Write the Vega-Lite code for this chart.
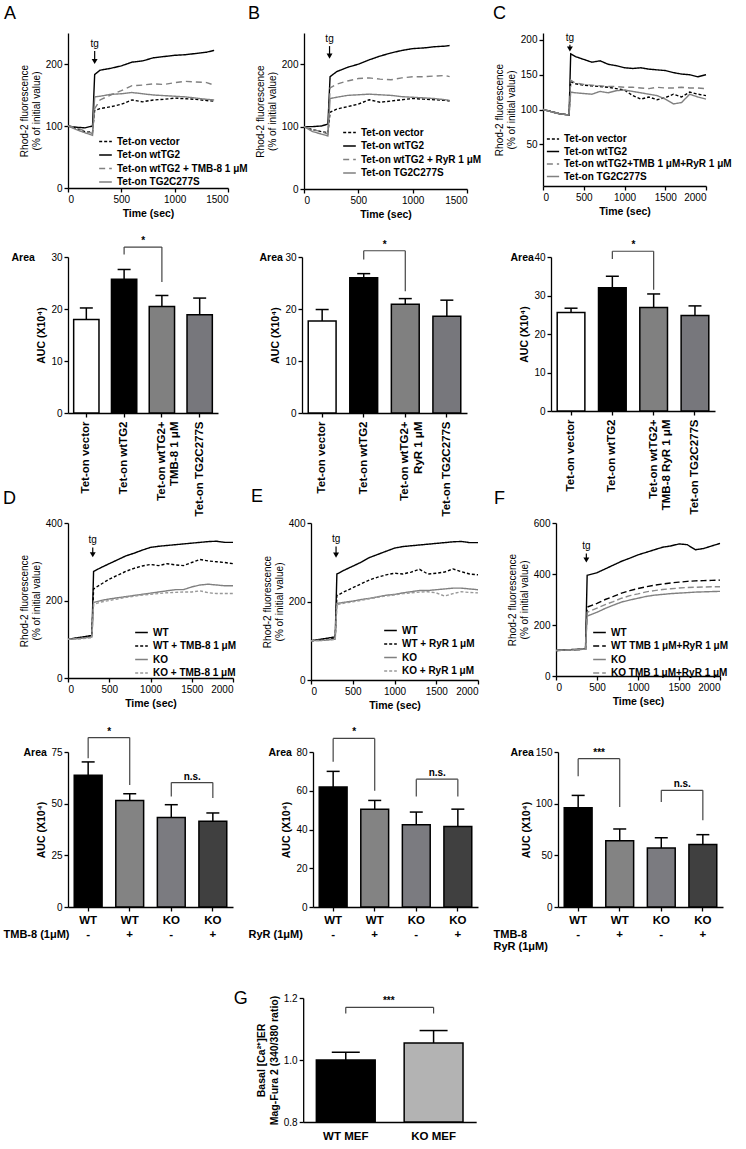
{
 "$schema": "https://vega.github.io/schema/vega-lite/v6.json",
 "background": "white",
 "padding": {"left": 3, "top": 4, "right": 3, "bottom": 2},
 "config": {
  "font": "Liberation Sans",
  "view": {"stroke": null},
  "axis": {"grid": false, "domainColor": "#000", "tickColor": "#000", "labelColor": "#000", "titleColor": "#000", "labelFontSize": 10, "titleFontSize": 10.5, "tickSize": 4, "domainWidth": 1.3, "tickWidth": 1.3, "labelPadding": 2, "titlePadding": 4},
  "legend": {"labelFontSize": 10, "labelFontWeight": "bold", "labelColor": "#000", "symbolType": "stroke", "symbolStrokeWidth": 1.5, "symbolSize": 160, "rowPadding": 0.5, "labelLimit": 400, "padding": 0},
  "title": {"color": "#000", "fontWeight": "normal"}
 },
 "datasets": {
  "lineA": [
   {"t":0,"v":100,"s":"Tet-on vector"},{"t":80,"v":96,"s":"Tet-on vector"},{"t":160,"v":91,"s":"Tet-on vector"},{"t":230,"v":90,"s":"Tet-on vector"},{"t":250,"v":125,"s":"Tet-on vector"},{"t":300,"v":128,"s":"Tet-on vector"},{"t":400,"v":131,"s":"Tet-on vector"},{"t":500,"v":135,"s":"Tet-on vector"},{"t":600,"v":142,"s":"Tet-on vector"},{"t":700,"v":139,"s":"Tet-on vector"},{"t":800,"v":142,"s":"Tet-on vector"},{"t":900,"v":143,"s":"Tet-on vector"},{"t":1000,"v":145,"s":"Tet-on vector"},{"t":1100,"v":144,"s":"Tet-on vector"},{"t":1200,"v":143,"s":"Tet-on vector"},{"t":1300,"v":141,"s":"Tet-on vector"},{"t":1370,"v":140,"s":"Tet-on vector"},
   {"t":0,"v":100,"s":"Tet-on wtTG2"},{"t":80,"v":98,"s":"Tet-on wtTG2"},{"t":160,"v":97,"s":"Tet-on wtTG2"},{"t":230,"v":100,"s":"Tet-on wtTG2"},{"t":250,"v":183,"s":"Tet-on wtTG2"},{"t":300,"v":190,"s":"Tet-on wtTG2"},{"t":400,"v":193,"s":"Tet-on wtTG2"},{"t":500,"v":197,"s":"Tet-on wtTG2"},{"t":600,"v":203,"s":"Tet-on wtTG2"},{"t":700,"v":205,"s":"Tet-on wtTG2"},{"t":800,"v":210,"s":"Tet-on wtTG2"},{"t":900,"v":212,"s":"Tet-on wtTG2"},{"t":1000,"v":214,"s":"Tet-on wtTG2"},{"t":1100,"v":215,"s":"Tet-on wtTG2"},{"t":1200,"v":217,"s":"Tet-on wtTG2"},{"t":1300,"v":219,"s":"Tet-on wtTG2"},{"t":1370,"v":222,"s":"Tet-on wtTG2"},
   {"t":0,"v":100,"s":"Tet-on wtTG2 + TMB-8 1 μM"},{"t":80,"v":97,"s":"Tet-on wtTG2 + TMB-8 1 μM"},{"t":160,"v":92,"s":"Tet-on wtTG2 + TMB-8 1 μM"},{"t":230,"v":88,"s":"Tet-on wtTG2 + TMB-8 1 μM"},{"t":250,"v":128,"s":"Tet-on wtTG2 + TMB-8 1 μM"},{"t":300,"v":142,"s":"Tet-on wtTG2 + TMB-8 1 μM"},{"t":400,"v":150,"s":"Tet-on wtTG2 + TMB-8 1 μM"},{"t":500,"v":157,"s":"Tet-on wtTG2 + TMB-8 1 μM"},{"t":600,"v":165,"s":"Tet-on wtTG2 + TMB-8 1 μM"},{"t":700,"v":166,"s":"Tet-on wtTG2 + TMB-8 1 μM"},{"t":800,"v":168,"s":"Tet-on wtTG2 + TMB-8 1 μM"},{"t":900,"v":167,"s":"Tet-on wtTG2 + TMB-8 1 μM"},{"t":1000,"v":170,"s":"Tet-on wtTG2 + TMB-8 1 μM"},{"t":1100,"v":172,"s":"Tet-on wtTG2 + TMB-8 1 μM"},{"t":1200,"v":171,"s":"Tet-on wtTG2 + TMB-8 1 μM"},{"t":1300,"v":170,"s":"Tet-on wtTG2 + TMB-8 1 μM"},{"t":1370,"v":166,"s":"Tet-on wtTG2 + TMB-8 1 μM"},
   {"t":0,"v":100,"s":"Tet-on TG2C277S"},{"t":80,"v":94,"s":"Tet-on TG2C277S"},{"t":160,"v":89,"s":"Tet-on TG2C277S"},{"t":230,"v":85,"s":"Tet-on TG2C277S"},{"t":250,"v":147,"s":"Tet-on TG2C277S"},{"t":300,"v":148,"s":"Tet-on TG2C277S"},{"t":400,"v":151,"s":"Tet-on TG2C277S"},{"t":500,"v":152,"s":"Tet-on TG2C277S"},{"t":600,"v":154,"s":"Tet-on TG2C277S"},{"t":700,"v":152,"s":"Tet-on TG2C277S"},{"t":800,"v":150,"s":"Tet-on TG2C277S"},{"t":900,"v":149,"s":"Tet-on TG2C277S"},{"t":1000,"v":148,"s":"Tet-on TG2C277S"},{"t":1100,"v":147,"s":"Tet-on TG2C277S"},{"t":1200,"v":145,"s":"Tet-on TG2C277S"},{"t":1300,"v":143,"s":"Tet-on TG2C277S"},{"t":1370,"v":142,"s":"Tet-on TG2C277S"}
  ],
  "lineB": [
   {"t":0,"v":100,"s":"Tet-on vector"},{"t":80,"v":95,"s":"Tet-on vector"},{"t":160,"v":92,"s":"Tet-on vector"},{"t":220,"v":90,"s":"Tet-on vector"},{"t":240,"v":123,"s":"Tet-on vector"},{"t":300,"v":128,"s":"Tet-on vector"},{"t":400,"v":132,"s":"Tet-on vector"},{"t":500,"v":136,"s":"Tet-on vector"},{"t":600,"v":143,"s":"Tet-on vector"},{"t":700,"v":139,"s":"Tet-on vector"},{"t":800,"v":141,"s":"Tet-on vector"},{"t":900,"v":143,"s":"Tet-on vector"},{"t":1000,"v":145,"s":"Tet-on vector"},{"t":1100,"v":144,"s":"Tet-on vector"},{"t":1200,"v":143,"s":"Tet-on vector"},{"t":1300,"v":142,"s":"Tet-on vector"},{"t":1340,"v":141,"s":"Tet-on vector"},
   {"t":0,"v":100,"s":"Tet-on wtTG2"},{"t":80,"v":100,"s":"Tet-on wtTG2"},{"t":160,"v":101,"s":"Tet-on wtTG2"},{"t":220,"v":104,"s":"Tet-on wtTG2"},{"t":240,"v":180,"s":"Tet-on wtTG2"},{"t":300,"v":188,"s":"Tet-on wtTG2"},{"t":400,"v":195,"s":"Tet-on wtTG2"},{"t":500,"v":200,"s":"Tet-on wtTG2"},{"t":600,"v":207,"s":"Tet-on wtTG2"},{"t":700,"v":213,"s":"Tet-on wtTG2"},{"t":800,"v":218,"s":"Tet-on wtTG2"},{"t":900,"v":222,"s":"Tet-on wtTG2"},{"t":1000,"v":225,"s":"Tet-on wtTG2"},{"t":1100,"v":226,"s":"Tet-on wtTG2"},{"t":1200,"v":228,"s":"Tet-on wtTG2"},{"t":1300,"v":229,"s":"Tet-on wtTG2"},{"t":1340,"v":230,"s":"Tet-on wtTG2"},
   {"t":0,"v":100,"s":"Tet-on wtTG2 + RyR 1 μM"},{"t":80,"v":95,"s":"Tet-on wtTG2 + RyR 1 μM"},{"t":160,"v":92,"s":"Tet-on wtTG2 + RyR 1 μM"},{"t":220,"v":88,"s":"Tet-on wtTG2 + RyR 1 μM"},{"t":240,"v":162,"s":"Tet-on wtTG2 + RyR 1 μM"},{"t":300,"v":168,"s":"Tet-on wtTG2 + RyR 1 μM"},{"t":400,"v":173,"s":"Tet-on wtTG2 + RyR 1 μM"},{"t":500,"v":177,"s":"Tet-on wtTG2 + RyR 1 μM"},{"t":600,"v":178,"s":"Tet-on wtTG2 + RyR 1 μM"},{"t":700,"v":176,"s":"Tet-on wtTG2 + RyR 1 μM"},{"t":800,"v":175,"s":"Tet-on wtTG2 + RyR 1 μM"},{"t":900,"v":178,"s":"Tet-on wtTG2 + RyR 1 μM"},{"t":1000,"v":180,"s":"Tet-on wtTG2 + RyR 1 μM"},{"t":1100,"v":180,"s":"Tet-on wtTG2 + RyR 1 μM"},{"t":1200,"v":181,"s":"Tet-on wtTG2 + RyR 1 μM"},{"t":1300,"v":182,"s":"Tet-on wtTG2 + RyR 1 μM"},{"t":1340,"v":180,"s":"Tet-on wtTG2 + RyR 1 μM"},
   {"t":0,"v":100,"s":"Tet-on TG2C277S"},{"t":80,"v":92,"s":"Tet-on TG2C277S"},{"t":160,"v":88,"s":"Tet-on TG2C277S"},{"t":220,"v":85,"s":"Tet-on TG2C277S"},{"t":240,"v":145,"s":"Tet-on TG2C277S"},{"t":300,"v":147,"s":"Tet-on TG2C277S"},{"t":400,"v":150,"s":"Tet-on TG2C277S"},{"t":500,"v":151,"s":"Tet-on TG2C277S"},{"t":600,"v":152,"s":"Tet-on TG2C277S"},{"t":700,"v":151,"s":"Tet-on TG2C277S"},{"t":800,"v":150,"s":"Tet-on TG2C277S"},{"t":900,"v":148,"s":"Tet-on TG2C277S"},{"t":1000,"v":147,"s":"Tet-on TG2C277S"},{"t":1100,"v":146,"s":"Tet-on TG2C277S"},{"t":1200,"v":145,"s":"Tet-on TG2C277S"},{"t":1300,"v":143,"s":"Tet-on TG2C277S"},{"t":1340,"v":142,"s":"Tet-on TG2C277S"}
  ],
  "lineC": [
   {"t":0,"v":100,"s":"Tet-on vector"},{"t":100,"v":97,"s":"Tet-on vector"},{"t":200,"v":94,"s":"Tet-on vector"},{"t":320,"v":92,"s":"Tet-on vector"},{"t":340,"v":140,"s":"Tet-on vector"},{"t":400,"v":137,"s":"Tet-on vector"},{"t":500,"v":135,"s":"Tet-on vector"},{"t":600,"v":134,"s":"Tet-on vector"},{"t":700,"v":133,"s":"Tet-on vector"},{"t":800,"v":132,"s":"Tet-on vector"},{"t":900,"v":130,"s":"Tet-on vector"},{"t":1000,"v":128,"s":"Tet-on vector"},{"t":1100,"v":120,"s":"Tet-on vector"},{"t":1200,"v":115,"s":"Tet-on vector"},{"t":1300,"v":118,"s":"Tet-on vector"},{"t":1400,"v":114,"s":"Tet-on vector"},{"t":1500,"v":117,"s":"Tet-on vector"},{"t":1600,"v":122,"s":"Tet-on vector"},{"t":1700,"v":118,"s":"Tet-on vector"},{"t":1800,"v":125,"s":"Tet-on vector"},{"t":1900,"v":122,"s":"Tet-on vector"},{"t":2000,"v":120,"s":"Tet-on vector"},
   {"t":0,"v":100,"s":"Tet-on wtTG2"},{"t":100,"v":97,"s":"Tet-on wtTG2"},{"t":200,"v":94,"s":"Tet-on wtTG2"},{"t":320,"v":92,"s":"Tet-on wtTG2"},{"t":340,"v":180,"s":"Tet-on wtTG2"},{"t":400,"v":176,"s":"Tet-on wtTG2"},{"t":500,"v":172,"s":"Tet-on wtTG2"},{"t":600,"v":168,"s":"Tet-on wtTG2"},{"t":700,"v":170,"s":"Tet-on wtTG2"},{"t":800,"v":165,"s":"Tet-on wtTG2"},{"t":900,"v":163,"s":"Tet-on wtTG2"},{"t":1000,"v":160,"s":"Tet-on wtTG2"},{"t":1100,"v":159,"s":"Tet-on wtTG2"},{"t":1200,"v":160,"s":"Tet-on wtTG2"},{"t":1300,"v":158,"s":"Tet-on wtTG2"},{"t":1400,"v":157,"s":"Tet-on wtTG2"},{"t":1500,"v":156,"s":"Tet-on wtTG2"},{"t":1600,"v":153,"s":"Tet-on wtTG2"},{"t":1700,"v":151,"s":"Tet-on wtTG2"},{"t":1800,"v":150,"s":"Tet-on wtTG2"},{"t":1900,"v":147,"s":"Tet-on wtTG2"},{"t":2000,"v":150,"s":"Tet-on wtTG2"},
   {"t":0,"v":100,"s":"Tet-on wtTG2+TMB 1 μM+RyR 1 μM"},{"t":100,"v":97,"s":"Tet-on wtTG2+TMB 1 μM+RyR 1 μM"},{"t":200,"v":94,"s":"Tet-on wtTG2+TMB 1 μM+RyR 1 μM"},{"t":320,"v":92,"s":"Tet-on wtTG2+TMB 1 μM+RyR 1 μM"},{"t":340,"v":142,"s":"Tet-on wtTG2+TMB 1 μM+RyR 1 μM"},{"t":400,"v":138,"s":"Tet-on wtTG2+TMB 1 μM+RyR 1 μM"},{"t":500,"v":136,"s":"Tet-on wtTG2+TMB 1 μM+RyR 1 μM"},{"t":600,"v":135,"s":"Tet-on wtTG2+TMB 1 μM+RyR 1 μM"},{"t":700,"v":134,"s":"Tet-on wtTG2+TMB 1 μM+RyR 1 μM"},{"t":800,"v":133,"s":"Tet-on wtTG2+TMB 1 μM+RyR 1 μM"},{"t":900,"v":133,"s":"Tet-on wtTG2+TMB 1 μM+RyR 1 μM"},{"t":1000,"v":132,"s":"Tet-on wtTG2+TMB 1 μM+RyR 1 μM"},{"t":1100,"v":132,"s":"Tet-on wtTG2+TMB 1 μM+RyR 1 μM"},{"t":1200,"v":131,"s":"Tet-on wtTG2+TMB 1 μM+RyR 1 μM"},{"t":1300,"v":130,"s":"Tet-on wtTG2+TMB 1 μM+RyR 1 μM"},{"t":1400,"v":132,"s":"Tet-on wtTG2+TMB 1 μM+RyR 1 μM"},{"t":1500,"v":131,"s":"Tet-on wtTG2+TMB 1 μM+RyR 1 μM"},{"t":1600,"v":131,"s":"Tet-on wtTG2+TMB 1 μM+RyR 1 μM"},{"t":1700,"v":132,"s":"Tet-on wtTG2+TMB 1 μM+RyR 1 μM"},{"t":1800,"v":131,"s":"Tet-on wtTG2+TMB 1 μM+RyR 1 μM"},{"t":1900,"v":131,"s":"Tet-on wtTG2+TMB 1 μM+RyR 1 μM"},{"t":2000,"v":130,"s":"Tet-on wtTG2+TMB 1 μM+RyR 1 μM"},
   {"t":0,"v":100,"s":"Tet-on TG2C277S"},{"t":100,"v":97,"s":"Tet-on TG2C277S"},{"t":200,"v":94,"s":"Tet-on TG2C277S"},{"t":320,"v":92,"s":"Tet-on TG2C277S"},{"t":340,"v":125,"s":"Tet-on TG2C277S"},{"t":400,"v":124,"s":"Tet-on TG2C277S"},{"t":500,"v":123,"s":"Tet-on TG2C277S"},{"t":600,"v":122,"s":"Tet-on TG2C277S"},{"t":700,"v":126,"s":"Tet-on TG2C277S"},{"t":800,"v":124,"s":"Tet-on TG2C277S"},{"t":900,"v":127,"s":"Tet-on TG2C277S"},{"t":1000,"v":128,"s":"Tet-on TG2C277S"},{"t":1100,"v":126,"s":"Tet-on TG2C277S"},{"t":1200,"v":124,"s":"Tet-on TG2C277S"},{"t":1300,"v":122,"s":"Tet-on TG2C277S"},{"t":1400,"v":120,"s":"Tet-on TG2C277S"},{"t":1500,"v":115,"s":"Tet-on TG2C277S"},{"t":1600,"v":108,"s":"Tet-on TG2C277S"},{"t":1700,"v":110,"s":"Tet-on TG2C277S"},{"t":1800,"v":122,"s":"Tet-on TG2C277S"},{"t":1900,"v":118,"s":"Tet-on TG2C277S"},{"t":2000,"v":115,"s":"Tet-on TG2C277S"}
  ],
  "lineD": [
   {"t":0,"v":100,"s":"WT"},{"t":150,"v":105,"s":"WT"},{"t":290,"v":110,"s":"WT"},{"t":310,"v":275,"s":"WT"},{"t":400,"v":285,"s":"WT"},{"t":500,"v":295,"s":"WT"},{"t":600,"v":305,"s":"WT"},{"t":700,"v":315,"s":"WT"},{"t":800,"v":322,"s":"WT"},{"t":900,"v":330,"s":"WT"},{"t":1000,"v":337,"s":"WT"},{"t":1100,"v":340,"s":"WT"},{"t":1200,"v":342,"s":"WT"},{"t":1300,"v":344,"s":"WT"},{"t":1400,"v":346,"s":"WT"},{"t":1500,"v":348,"s":"WT"},{"t":1600,"v":350,"s":"WT"},{"t":1700,"v":352,"s":"WT"},{"t":1800,"v":353,"s":"WT"},{"t":1900,"v":350,"s":"WT"},{"t":2000,"v":350,"s":"WT"},
   {"t":0,"v":100,"s":"WT + TMB-8 1 μM"},{"t":150,"v":104,"s":"WT + TMB-8 1 μM"},{"t":290,"v":108,"s":"WT + TMB-8 1 μM"},{"t":310,"v":230,"s":"WT + TMB-8 1 μM"},{"t":400,"v":242,"s":"WT + TMB-8 1 μM"},{"t":500,"v":255,"s":"WT + TMB-8 1 μM"},{"t":600,"v":265,"s":"WT + TMB-8 1 μM"},{"t":700,"v":275,"s":"WT + TMB-8 1 μM"},{"t":800,"v":283,"s":"WT + TMB-8 1 μM"},{"t":900,"v":289,"s":"WT + TMB-8 1 μM"},{"t":1000,"v":293,"s":"WT + TMB-8 1 μM"},{"t":1100,"v":290,"s":"WT + TMB-8 1 μM"},{"t":1200,"v":295,"s":"WT + TMB-8 1 μM"},{"t":1300,"v":292,"s":"WT + TMB-8 1 μM"},{"t":1400,"v":290,"s":"WT + TMB-8 1 μM"},{"t":1500,"v":298,"s":"WT + TMB-8 1 μM"},{"t":1600,"v":306,"s":"WT + TMB-8 1 μM"},{"t":1700,"v":302,"s":"WT + TMB-8 1 μM"},{"t":1800,"v":300,"s":"WT + TMB-8 1 μM"},{"t":1900,"v":298,"s":"WT + TMB-8 1 μM"},{"t":2000,"v":295,"s":"WT + TMB-8 1 μM"},
   {"t":0,"v":100,"s":"KO"},{"t":150,"v":102,"s":"KO"},{"t":290,"v":106,"s":"KO"},{"t":310,"v":195,"s":"KO"},{"t":400,"v":200,"s":"KO"},{"t":500,"v":204,"s":"KO"},{"t":600,"v":207,"s":"KO"},{"t":700,"v":210,"s":"KO"},{"t":800,"v":213,"s":"KO"},{"t":900,"v":216,"s":"KO"},{"t":1000,"v":219,"s":"KO"},{"t":1100,"v":222,"s":"KO"},{"t":1200,"v":225,"s":"KO"},{"t":1300,"v":228,"s":"KO"},{"t":1400,"v":228,"s":"KO"},{"t":1500,"v":235,"s":"KO"},{"t":1600,"v":240,"s":"KO"},{"t":1700,"v":242,"s":"KO"},{"t":1800,"v":240,"s":"KO"},{"t":1900,"v":238,"s":"KO"},{"t":2000,"v":238,"s":"KO"},
   {"t":0,"v":100,"s":"KO + TMB-8 1 μM"},{"t":150,"v":101,"s":"KO + TMB-8 1 μM"},{"t":290,"v":104,"s":"KO + TMB-8 1 μM"},{"t":310,"v":190,"s":"KO + TMB-8 1 μM"},{"t":400,"v":196,"s":"KO + TMB-8 1 μM"},{"t":500,"v":200,"s":"KO + TMB-8 1 μM"},{"t":600,"v":204,"s":"KO + TMB-8 1 μM"},{"t":700,"v":208,"s":"KO + TMB-8 1 μM"},{"t":800,"v":211,"s":"KO + TMB-8 1 μM"},{"t":900,"v":214,"s":"KO + TMB-8 1 μM"},{"t":1000,"v":216,"s":"KO + TMB-8 1 μM"},{"t":1100,"v":218,"s":"KO + TMB-8 1 μM"},{"t":1200,"v":220,"s":"KO + TMB-8 1 μM"},{"t":1300,"v":221,"s":"KO + TMB-8 1 μM"},{"t":1400,"v":222,"s":"KO + TMB-8 1 μM"},{"t":1500,"v":222,"s":"KO + TMB-8 1 μM"},{"t":1600,"v":225,"s":"KO + TMB-8 1 μM"},{"t":1700,"v":220,"s":"KO + TMB-8 1 μM"},{"t":1800,"v":218,"s":"KO + TMB-8 1 μM"},{"t":1900,"v":218,"s":"KO + TMB-8 1 μM"},{"t":2000,"v":218,"s":"KO + TMB-8 1 μM"}
  ],
  "lineE": [
   {"t":0,"v":100,"s":"WT"},{"t":150,"v":105,"s":"WT"},{"t":290,"v":110,"s":"WT"},{"t":310,"v":270,"s":"WT"},{"t":400,"v":280,"s":"WT"},{"t":500,"v":290,"s":"WT"},{"t":600,"v":300,"s":"WT"},{"t":700,"v":312,"s":"WT"},{"t":800,"v":320,"s":"WT"},{"t":900,"v":328,"s":"WT"},{"t":1000,"v":336,"s":"WT"},{"t":1100,"v":340,"s":"WT"},{"t":1200,"v":342,"s":"WT"},{"t":1300,"v":344,"s":"WT"},{"t":1400,"v":346,"s":"WT"},{"t":1500,"v":348,"s":"WT"},{"t":1600,"v":350,"s":"WT"},{"t":1700,"v":352,"s":"WT"},{"t":1800,"v":353,"s":"WT"},{"t":1900,"v":350,"s":"WT"},{"t":2000,"v":350,"s":"WT"},
   {"t":0,"v":100,"s":"WT + RyR 1 μM"},{"t":150,"v":103,"s":"WT + RyR 1 μM"},{"t":290,"v":106,"s":"WT + RyR 1 μM"},{"t":310,"v":215,"s":"WT + RyR 1 μM"},{"t":400,"v":225,"s":"WT + RyR 1 μM"},{"t":500,"v":235,"s":"WT + RyR 1 μM"},{"t":600,"v":245,"s":"WT + RyR 1 μM"},{"t":700,"v":255,"s":"WT + RyR 1 μM"},{"t":800,"v":262,"s":"WT + RyR 1 μM"},{"t":900,"v":268,"s":"WT + RyR 1 μM"},{"t":1000,"v":272,"s":"WT + RyR 1 μM"},{"t":1100,"v":270,"s":"WT + RyR 1 μM"},{"t":1200,"v":275,"s":"WT + RyR 1 μM"},{"t":1300,"v":282,"s":"WT + RyR 1 μM"},{"t":1400,"v":270,"s":"WT + RyR 1 μM"},{"t":1500,"v":272,"s":"WT + RyR 1 μM"},{"t":1600,"v":275,"s":"WT + RyR 1 μM"},{"t":1700,"v":283,"s":"WT + RyR 1 μM"},{"t":1800,"v":276,"s":"WT + RyR 1 μM"},{"t":1900,"v":270,"s":"WT + RyR 1 μM"},{"t":2000,"v":268,"s":"WT + RyR 1 μM"},
   {"t":0,"v":100,"s":"KO"},{"t":150,"v":101,"s":"KO"},{"t":290,"v":104,"s":"KO"},{"t":310,"v":195,"s":"KO"},{"t":400,"v":198,"s":"KO"},{"t":500,"v":201,"s":"KO"},{"t":600,"v":205,"s":"KO"},{"t":700,"v":208,"s":"KO"},{"t":800,"v":212,"s":"KO"},{"t":900,"v":216,"s":"KO"},{"t":1000,"v":218,"s":"KO"},{"t":1100,"v":222,"s":"KO"},{"t":1200,"v":225,"s":"KO"},{"t":1300,"v":228,"s":"KO"},{"t":1400,"v":228,"s":"KO"},{"t":1500,"v":230,"s":"KO"},{"t":1600,"v":232,"s":"KO"},{"t":1700,"v":234,"s":"KO"},{"t":1800,"v":234,"s":"KO"},{"t":1900,"v":232,"s":"KO"},{"t":2000,"v":230,"s":"KO"},
   {"t":0,"v":100,"s":"KO + RyR 1 μM"},{"t":150,"v":101,"s":"KO + RyR 1 μM"},{"t":290,"v":103,"s":"KO + RyR 1 μM"},{"t":310,"v":192,"s":"KO + RyR 1 μM"},{"t":400,"v":196,"s":"KO + RyR 1 μM"},{"t":500,"v":199,"s":"KO + RyR 1 μM"},{"t":600,"v":203,"s":"KO + RyR 1 μM"},{"t":700,"v":207,"s":"KO + RyR 1 μM"},{"t":800,"v":211,"s":"KO + RyR 1 μM"},{"t":900,"v":214,"s":"KO + RyR 1 μM"},{"t":1000,"v":217,"s":"KO + RyR 1 μM"},{"t":1100,"v":220,"s":"KO + RyR 1 μM"},{"t":1200,"v":222,"s":"KO + RyR 1 μM"},{"t":1300,"v":224,"s":"KO + RyR 1 μM"},{"t":1400,"v":225,"s":"KO + RyR 1 μM"},{"t":1500,"v":222,"s":"KO + RyR 1 μM"},{"t":1600,"v":214,"s":"KO + RyR 1 μM"},{"t":1700,"v":220,"s":"KO + RyR 1 μM"},{"t":1800,"v":225,"s":"KO + RyR 1 μM"},{"t":1900,"v":223,"s":"KO + RyR 1 μM"},{"t":2000,"v":222,"s":"KO + RyR 1 μM"}
  ],
  "lineF": [
   {"t":0,"v":100,"s":"WT"},{"t":150,"v":103,"s":"WT"},{"t":360,"v":106,"s":"WT"},{"t":380,"v":395,"s":"WT"},{"t":500,"v":405,"s":"WT"},{"t":600,"v":420,"s":"WT"},{"t":700,"v":435,"s":"WT"},{"t":800,"v":450,"s":"WT"},{"t":900,"v":462,"s":"WT"},{"t":1000,"v":475,"s":"WT"},{"t":1100,"v":485,"s":"WT"},{"t":1200,"v":495,"s":"WT"},{"t":1300,"v":505,"s":"WT"},{"t":1400,"v":510,"s":"WT"},{"t":1500,"v":518,"s":"WT"},{"t":1600,"v":515,"s":"WT"},{"t":1700,"v":495,"s":"WT"},{"t":1800,"v":500,"s":"WT"},{"t":1900,"v":510,"s":"WT"},{"t":2000,"v":520,"s":"WT"},
   {"t":0,"v":100,"s":"WT TMB 1 μM+RyR 1 μM"},{"t":150,"v":102,"s":"WT TMB 1 μM+RyR 1 μM"},{"t":360,"v":105,"s":"WT TMB 1 μM+RyR 1 μM"},{"t":380,"v":270,"s":"WT TMB 1 μM+RyR 1 μM"},{"t":500,"v":285,"s":"WT TMB 1 μM+RyR 1 μM"},{"t":600,"v":300,"s":"WT TMB 1 μM+RyR 1 μM"},{"t":700,"v":312,"s":"WT TMB 1 μM+RyR 1 μM"},{"t":800,"v":325,"s":"WT TMB 1 μM+RyR 1 μM"},{"t":900,"v":335,"s":"WT TMB 1 μM+RyR 1 μM"},{"t":1000,"v":343,"s":"WT TMB 1 μM+RyR 1 μM"},{"t":1100,"v":350,"s":"WT TMB 1 μM+RyR 1 μM"},{"t":1200,"v":356,"s":"WT TMB 1 μM+RyR 1 μM"},{"t":1300,"v":361,"s":"WT TMB 1 μM+RyR 1 μM"},{"t":1400,"v":365,"s":"WT TMB 1 μM+RyR 1 μM"},{"t":1500,"v":368,"s":"WT TMB 1 μM+RyR 1 μM"},{"t":1600,"v":371,"s":"WT TMB 1 μM+RyR 1 μM"},{"t":1700,"v":373,"s":"WT TMB 1 μM+RyR 1 μM"},{"t":1800,"v":374,"s":"WT TMB 1 μM+RyR 1 μM"},{"t":1900,"v":375,"s":"WT TMB 1 μM+RyR 1 μM"},{"t":2000,"v":376,"s":"WT TMB 1 μM+RyR 1 μM"},
   {"t":0,"v":100,"s":"KO"},{"t":150,"v":102,"s":"KO"},{"t":360,"v":105,"s":"KO"},{"t":380,"v":235,"s":"KO"},{"t":500,"v":250,"s":"KO"},{"t":600,"v":265,"s":"KO"},{"t":700,"v":278,"s":"KO"},{"t":800,"v":290,"s":"KO"},{"t":900,"v":298,"s":"KO"},{"t":1000,"v":305,"s":"KO"},{"t":1100,"v":312,"s":"KO"},{"t":1200,"v":317,"s":"KO"},{"t":1300,"v":320,"s":"KO"},{"t":1400,"v":323,"s":"KO"},{"t":1500,"v":325,"s":"KO"},{"t":1600,"v":327,"s":"KO"},{"t":1700,"v":329,"s":"KO"},{"t":1800,"v":330,"s":"KO"},{"t":1900,"v":331,"s":"KO"},{"t":2000,"v":332,"s":"KO"},
   {"t":0,"v":100,"s":"KO TMB 1 μM+RyR 1 μM"},{"t":150,"v":102,"s":"KO TMB 1 μM+RyR 1 μM"},{"t":360,"v":105,"s":"KO TMB 1 μM+RyR 1 μM"},{"t":380,"v":250,"s":"KO TMB 1 μM+RyR 1 μM"},{"t":500,"v":266,"s":"KO TMB 1 μM+RyR 1 μM"},{"t":600,"v":280,"s":"KO TMB 1 μM+RyR 1 μM"},{"t":700,"v":292,"s":"KO TMB 1 μM+RyR 1 μM"},{"t":800,"v":305,"s":"KO TMB 1 μM+RyR 1 μM"},{"t":900,"v":315,"s":"KO TMB 1 μM+RyR 1 μM"},{"t":1000,"v":322,"s":"KO TMB 1 μM+RyR 1 μM"},{"t":1100,"v":330,"s":"KO TMB 1 μM+RyR 1 μM"},{"t":1200,"v":335,"s":"KO TMB 1 μM+RyR 1 μM"},{"t":1300,"v":339,"s":"KO TMB 1 μM+RyR 1 μM"},{"t":1400,"v":342,"s":"KO TMB 1 μM+RyR 1 μM"},{"t":1500,"v":345,"s":"KO TMB 1 μM+RyR 1 μM"},{"t":1600,"v":347,"s":"KO TMB 1 μM+RyR 1 μM"},{"t":1700,"v":348,"s":"KO TMB 1 μM+RyR 1 μM"},{"t":1800,"v":349,"s":"KO TMB 1 μM+RyR 1 μM"},{"t":1900,"v":350,"s":"KO TMB 1 μM+RyR 1 μM"},{"t":2000,"v":350,"s":"KO TMB 1 μM+RyR 1 μM"}
  ],
  "tgA": [{"t":250,"yt":224,"ya":221,"yb":204,"lab":"tg"}],
  "tgB": [{"t":235,"yt":232,"ya":229,"yb":213,"lab":"tg"}],
  "tgC": [{"t":330,"yt":196,"ya":193,"yb":187,"lab":"tg"}],
  "tgD": [{"t":300,"yt":343,"ya":337,"yb":318,"lab":"tg"}],
  "tgE": [{"t":300,"yt":346,"ya":340,"yb":318,"lab":"tg"}],
  "tgF": [{"t":370,"yt":490,"ya":480,"yb":455,"lab":"tg"}],
  "barA": [{"g":"Tet-on vector","m":18.0,"hi":20.2},{"g":"Tet-on wtTG2","m":25.7,"hi":27.6},{"g":"Tet-on wtTG2+|TMB-8 1 μM","m":20.5,"hi":22.6},{"g":"Tet-on TG2C277S","m":18.9,"hi":22.1}],
  "barB": [{"g":"Tet-on vector","m":17.7,"hi":19.9},{"g":"Tet-on wtTG2","m":26.0,"hi":26.8},{"g":"Tet-on wtTG2+|RyR 1 μM","m":20.9,"hi":22.0},{"g":"Tet-on TG2C277S","m":18.6,"hi":21.7}],
  "barC": [{"g":"Tet-on vector","m":25.6,"hi":26.7},{"g":"Tet-on wtTG2","m":32.0,"hi":35.0},{"g":"Tet-on wtTG2+|TMB-8 RyR 1 μM","m":26.9,"hi":30.4},{"g":"Tet-on TG2C277S","m":24.8,"hi":27.3}],
  "barD": [{"g":"WT|-","m":63.8,"hi":70.2},{"g":"WT|+","m":51.5,"hi":54.8},{"g":"KO|-","m":43.3,"hi":49.5},{"g":"KO|+","m":41.5,"hi":45.5}],
  "barE": [{"g":"WT|-","m":62.0,"hi":70.0},{"g":"WT|+","m":50.5,"hi":55.0},{"g":"KO|-","m":42.5,"hi":49.0},{"g":"KO|+","m":41.5,"hi":50.5}],
  "barF": [{"g":"WT|-","m":96.0,"hi":108.0},{"g":"WT|+","m":64.0,"hi":75.5},{"g":"KO|-","m":57.0,"hi":67.0},{"g":"KO|+","m":60.5,"hi":70.0}],
  "barG": [{"g":"WT MEF","m":1.0,"hi":1.025},{"g":"KO MEF","m":1.055,"hi":1.095}],
  "sigA": [{"a":"Tet-on wtTG2","b":"Tet-on wtTG2+|TMB-8 1 μM","top":31.9,"la":30.5,"lb":25.2,"lab":"*"}],
  "sigB": [{"a":"Tet-on wtTG2","b":"Tet-on wtTG2+|RyR 1 μM","top":31.2,"la":29.5,"lb":23.4,"lab":"*"}],
  "sigC": [{"a":"Tet-on wtTG2","b":"Tet-on wtTG2+|TMB-8 RyR 1 μM","top":41.5,"la":39.5,"lb":31.5,"lab":"*"}],
  "sigD": [{"a":"WT|-","b":"WT|+","top":82,"la":72,"lb":59,"lab":"*"},{"a":"KO|-","b":"KO|+","top":60.2,"la":53.5,"lb":52.7,"lab":"n.s."}],
  "sigE": [{"a":"WT|-","b":"WT|+","top":87,"la":75,"lb":60,"lab":"*"},{"a":"KO|-","b":"KO|+","top":66,"la":57,"lb":57,"lab":"n.s."}],
  "sigF": [{"a":"WT|-","b":"WT|+","top":143.5,"la":126.5,"lb":96.8,"lab":"***"},{"a":"KO|-","b":"KO|+","top":112.9,"la":101.6,"lb":84,"lab":"n.s."}],
  "sigG": [{"a":"WT MEF","b":"KO MEF","top":1.17,"la":1.15,"lb":1.15,"lab":"***"}]
 },
 "spacing": 38,
 "center": true,
 "resolve": {"scale": {"x": "independent", "y": "independent", "color": "independent", "strokeDash": "independent", "fill": "independent"}, "legend": {"color": "independent", "strokeDash": "independent"}, "axis": {"x": "independent", "y": "independent"}},
 "vconcat": [
  {
   "spacing": -28,
   "resolve": {"scale": {"x": "independent", "y": "independent", "color": "independent", "strokeDash": "independent", "fill": "independent"}, "legend": {"color": "independent", "strokeDash": "independent"}, "axis": {"x": "independent", "y": "independent"}},
   "vconcat": [
    {
     "spacing": 16,
     "resolve": {"scale": {"x": "independent", "y": "independent", "color": "independent", "strokeDash": "independent", "fill": "independent"}, "legend": {"color": "independent", "strokeDash": "independent"}, "axis": {"x": "independent", "y": "independent"}},
     "vconcat": [
      {
       "bounds": "flush",
       "spacing": 76,
       "resolve": {"scale": {"x": "independent", "y": "independent", "color": "independent", "strokeDash": "independent"}, "legend": {"color": "independent", "strokeDash": "independent"}, "axis": {"x": "independent", "y": "independent"}},
       "hconcat": [
        {
         "width": 160, "height": 155,
         "title": {"text": "A", "anchor": "start", "frame": "group", "dx": -64, "fontSize": 18, "offset": 10},
         "layer": [
          {"data": {"name": "lineA"}, "mark": {"type": "line", "strokeWidth": 1.4},
           "encoding": {
            "x": {"field": "t", "type": "quantitative", "scale": {"domain": [0, 1500], "nice": false}, "axis": {"values": [0, 500, 1000, 1500], "format": "d", "title": "Time (sec)"}},
            "y": {"field": "v", "type": "quantitative", "scale": {"domain": [0, 250], "nice": false}, "axis": {"values": [0, 50, 100, 150, 200, 250], "title": ["Rhod-2 fluorescence", "(% of initial value)"], "titleFontWeight": "normal", "titleFontSize": 10}},
            "color": {"field": "s", "type": "nominal", "scale": {"domain": ["Tet-on vector", "Tet-on wtTG2", "Tet-on wtTG2 + TMB-8 1 μM", "Tet-on TG2C277S"], "range": ["#000000", "#000000", "#808080", "#808080"]}, "legend": {"title": null, "orient": "none", "legendX": 30, "legendY": 101}},
            "strokeDash": {"field": "s", "type": "nominal", "scale": {"domain": ["Tet-on vector", "Tet-on wtTG2", "Tet-on wtTG2 + TMB-8 1 μM", "Tet-on TG2C277S"], "range": [[3, 2], [1, 0], [6, 4], [1, 0]]}, "legend": {"title": null, "orient": "none", "legendX": 30, "legendY": 101}}
           }},
          {"data": {"name": "tgA"}, "mark": {"type": "text", "fontSize": 10, "baseline": "bottom"}, "encoding": {"x": {"field": "t", "type": "quantitative"}, "y": {"field": "yt", "type": "quantitative"}, "text": {"field": "lab"}}},
          {"data": {"name": "tgA"}, "mark": {"type": "rule", "strokeWidth": 1.2, "color": "#000"}, "encoding": {"x": {"field": "t", "type": "quantitative"}, "y": {"field": "ya", "type": "quantitative"}, "y2": {"field": "yb"}}},
          {"data": {"name": "tgA"}, "mark": {"type": "point", "shape": "triangle-down", "filled": true, "size": 35, "color": "#000", "opacity": 1}, "encoding": {"x": {"field": "t", "type": "quantitative"}, "y": {"field": "yb", "type": "quantitative"}}}
         ]
        },
        {
         "width": 163, "height": 156,
         "title": {"text": "B", "anchor": "start", "frame": "group", "dx": -56, "fontSize": 18, "offset": 10},
         "layer": [
          {"data": {"name": "lineB"}, "mark": {"type": "line", "strokeWidth": 1.4},
           "encoding": {
            "x": {"field": "t", "type": "quantitative", "scale": {"domain": [0, 1500], "nice": false}, "axis": {"values": [0, 500, 1000, 1500], "format": "d", "title": "Time (sec)"}},
            "y": {"field": "v", "type": "quantitative", "scale": {"domain": [0, 250], "nice": false}, "axis": {"values": [0, 50, 100, 150, 200, 250], "title": ["Rhod-2 fluorescence", "(% of initial value)"], "titleFontWeight": "normal", "titleFontSize": 10}},
            "color": {"field": "s", "type": "nominal", "scale": {"domain": ["Tet-on vector", "Tet-on wtTG2", "Tet-on wtTG2 + RyR 1 μM", "Tet-on TG2C277S"], "range": ["#000000", "#000000", "#808080", "#808080"]}, "legend": {"title": null, "orient": "none", "legendX": 38, "legendY": 92}},
            "strokeDash": {"field": "s", "type": "nominal", "scale": {"domain": ["Tet-on vector", "Tet-on wtTG2", "Tet-on wtTG2 + RyR 1 μM", "Tet-on TG2C277S"], "range": [[3, 2], [1, 0], [6, 4], [1, 0]]}, "legend": {"title": null, "orient": "none", "legendX": 38, "legendY": 92}}
           }},
          {"data": {"name": "tgB"}, "mark": {"type": "text", "fontSize": 10, "baseline": "bottom"}, "encoding": {"x": {"field": "t", "type": "quantitative"}, "y": {"field": "yt", "type": "quantitative"}, "text": {"field": "lab"}}},
          {"data": {"name": "tgB"}, "mark": {"type": "rule", "strokeWidth": 1.2, "color": "#000"}, "encoding": {"x": {"field": "t", "type": "quantitative"}, "y": {"field": "ya", "type": "quantitative"}, "y2": {"field": "yb"}}},
          {"data": {"name": "tgB"}, "mark": {"type": "point", "shape": "triangle-down", "filled": true, "size": 35, "color": "#000", "opacity": 1}, "encoding": {"x": {"field": "t", "type": "quantitative"}, "y": {"field": "yb", "type": "quantitative"}}}
         ]
        },
        {
         "width": 163, "height": 153,
         "title": {"text": "C", "anchor": "start", "frame": "group", "dx": -50, "fontSize": 18, "offset": 10},
         "layer": [
          {"data": {"name": "lineC"}, "mark": {"type": "line", "strokeWidth": 1.4},
           "encoding": {
            "x": {"field": "t", "type": "quantitative", "scale": {"domain": [0, 2000], "nice": false}, "axis": {"values": [0, 500, 1000, 1500, 2000], "format": "d", "title": "Time (sec)"}},
            "y": {"field": "v", "type": "quantitative", "scale": {"domain": [-10, 210], "nice": false, "zero": false}, "axis": {"values": [50, 100, 150, 200], "title": ["Rhod-2 fluorescence", "(% of initial value)"], "titleFontWeight": "normal", "titleFontSize": 10}},
            "color": {"field": "s", "type": "nominal", "scale": {"domain": ["Tet-on vector", "Tet-on wtTG2", "Tet-on wtTG2+TMB 1 μM+RyR 1 μM", "Tet-on TG2C277S"], "range": ["#000000", "#000000", "#808080", "#808080"]}, "legend": {"title": null, "orient": "none", "legendX": 3, "legendY": 99, "labelFontSize": 10, "symbolSize": 150}},
            "strokeDash": {"field": "s", "type": "nominal", "scale": {"domain": ["Tet-on vector", "Tet-on wtTG2", "Tet-on wtTG2+TMB 1 μM+RyR 1 μM", "Tet-on TG2C277S"], "range": [[3, 2], [1, 0], [6, 4], [1, 0]]}, "legend": {"title": null, "orient": "none", "legendX": 3, "legendY": 99, "labelFontSize": 10, "symbolSize": 150}}
           }},
          {"data": {"name": "tgC"}, "mark": {"type": "text", "fontSize": 10, "baseline": "bottom"}, "encoding": {"x": {"field": "t", "type": "quantitative"}, "y": {"field": "yt", "type": "quantitative"}, "text": {"field": "lab"}}},
          {"data": {"name": "tgC"}, "mark": {"type": "rule", "strokeWidth": 1.2, "color": "#000"}, "encoding": {"x": {"field": "t", "type": "quantitative"}, "y": {"field": "ya", "type": "quantitative"}, "y2": {"field": "yb"}}},
          {"data": {"name": "tgC"}, "mark": {"type": "point", "shape": "triangle-down", "filled": true, "size": 35, "color": "#000", "opacity": 1}, "encoding": {"x": {"field": "t", "type": "quantitative"}, "y": {"field": "yb", "type": "quantitative"}}}
         ]
        }
       ]
      },
      {
       "bounds": "flush",
       "spacing": 84,
       "resolve": {"scale": {"x": "independent", "y": "independent", "fill": "independent"}, "axis": {"x": "independent", "y": "independent"}},
       "hconcat": [
        {
         "width": 150, "height": 156,
         "resolve": {"axis": {"y": "independent"}},
         "layer": [
          {"data": {"name": "barA"}, "mark": {"type": "bar", "stroke": "#000", "strokeWidth": 1.5},
           "encoding": {
            "x": {"field": "g", "type": "nominal", "scale": {"domain": ["Tet-on vector", "Tet-on wtTG2", "Tet-on wtTG2+|TMB-8 1 μM", "Tet-on TG2C277S"], "paddingInner": 0.33, "paddingOuter": 0.15}, "axis": {"title": null, "labelAngle": -90, "labelExpr": "split(datum.label, '|')", "labelFontWeight": "bold", "labelFontSize": 11.5, "labelPadding": 4}},
            "y": {"field": "m", "type": "quantitative", "scale": {"domain": [0, 30], "nice": false}, "axis": {"values": [0, 10, 20, 30], "title": "AUC (X10⁴)"}},
            "fill": {"field": "g", "type": "nominal", "scale": {"domain": ["Tet-on vector", "Tet-on wtTG2", "Tet-on wtTG2+|TMB-8 1 μM", "Tet-on TG2C277S"], "range": ["#ffffff", "#000000", "#808080", "#77777c"]}, "legend": null}
           }},
          {"data": {"name": "barA"}, "mark": {"type": "rule", "strokeWidth": 1.5, "color": "#000"}, "encoding": {"x": {"field": "g", "type": "nominal"}, "y": {"field": "m", "type": "quantitative", "axis": null}, "y2": {"field": "hi"}}},
          {"data": {"name": "barA"}, "mark": {"type": "tick", "orient": "horizontal", "size": 13, "thickness": 1.5, "color": "#000", "opacity": 1}, "encoding": {"x": {"field": "g", "type": "nominal"}, "y": {"field": "hi", "type": "quantitative", "axis": {"orient": "right", "domain": false, "ticks": false, "labels": false, "title": "Area", "titleAngle": 0, "titleX": -207, "titleY": 0, "titleAlign": "left", "titleBaseline": "middle", "titleFontSize": 10.5, "titleFontWeight": "bold"}}}},
          {"data": {"name": "sigA"}, "mark": {"type": "rule", "color": "#444", "strokeWidth": 1.2}, "encoding": {"x": {"field": "a", "type": "nominal"}, "x2": {"field": "b"}, "y": {"field": "top", "type": "quantitative", "axis": null}}},
          {"data": {"name": "sigA"}, "mark": {"type": "rule", "color": "#444", "strokeWidth": 1.2}, "encoding": {"x": {"field": "a", "type": "nominal"}, "y": {"field": "la", "type": "quantitative", "axis": null}, "y2": {"field": "top"}}},
          {"data": {"name": "sigA"}, "mark": {"type": "rule", "color": "#444", "strokeWidth": 1.2}, "encoding": {"x": {"field": "b", "type": "nominal"}, "y": {"field": "lb", "type": "quantitative", "axis": null}, "y2": {"field": "top"}}},
          {"data": {"name": "sigA"}, "mark": {"type": "text", "dx": 19, "dy": -6, "fontSize": 10, "fontWeight": "bold"}, "encoding": {"x": {"field": "a", "type": "nominal"}, "y": {"field": "top", "type": "quantitative", "axis": null}, "text": {"field": "lab"}}}
         ]
        },
        {
         "width": 165, "height": 156,
         "resolve": {"axis": {"y": "independent"}},
         "layer": [
          {"data": {"name": "barB"}, "mark": {"type": "bar", "stroke": "#000", "strokeWidth": 1.5},
           "encoding": {
            "x": {"field": "g", "type": "nominal", "scale": {"domain": ["Tet-on vector", "Tet-on wtTG2", "Tet-on wtTG2+|RyR 1 μM", "Tet-on TG2C277S"], "paddingInner": 0.33, "paddingOuter": 0.15}, "axis": {"title": null, "labelAngle": -90, "labelExpr": "split(datum.label, '|')", "labelFontWeight": "bold", "labelFontSize": 11.5, "labelPadding": 4}},
            "y": {"field": "m", "type": "quantitative", "scale": {"domain": [0, 30], "nice": false}, "axis": {"values": [0, 10, 20, 30], "title": "AUC (X10⁴)"}},
            "fill": {"field": "g", "type": "nominal", "scale": {"domain": ["Tet-on vector", "Tet-on wtTG2", "Tet-on wtTG2+|RyR 1 μM", "Tet-on TG2C277S"], "range": ["#ffffff", "#000000", "#808080", "#77777c"]}, "legend": null}
           }},
          {"data": {"name": "barB"}, "mark": {"type": "rule", "strokeWidth": 1.5, "color": "#000"}, "encoding": {"x": {"field": "g", "type": "nominal"}, "y": {"field": "m", "type": "quantitative", "axis": null}, "y2": {"field": "hi"}}},
          {"data": {"name": "barB"}, "mark": {"type": "tick", "orient": "horizontal", "size": 13, "thickness": 1.5, "color": "#000", "opacity": 1}, "encoding": {"x": {"field": "g", "type": "nominal"}, "y": {"field": "hi", "type": "quantitative", "axis": {"orient": "right", "domain": false, "ticks": false, "labels": false, "title": "Area", "titleAngle": 0, "titleX": -208, "titleY": 0, "titleAlign": "left", "titleBaseline": "middle", "titleFontSize": 10.5, "titleFontWeight": "bold"}}}},
          {"data": {"name": "sigB"}, "mark": {"type": "rule", "color": "#444", "strokeWidth": 1.2}, "encoding": {"x": {"field": "a", "type": "nominal"}, "x2": {"field": "b"}, "y": {"field": "top", "type": "quantitative", "axis": null}}},
          {"data": {"name": "sigB"}, "mark": {"type": "rule", "color": "#444", "strokeWidth": 1.2}, "encoding": {"x": {"field": "a", "type": "nominal"}, "y": {"field": "la", "type": "quantitative", "axis": null}, "y2": {"field": "top"}}},
          {"data": {"name": "sigB"}, "mark": {"type": "rule", "color": "#444", "strokeWidth": 1.2}, "encoding": {"x": {"field": "b", "type": "nominal"}, "y": {"field": "lb", "type": "quantitative", "axis": null}, "y2": {"field": "top"}}},
          {"data": {"name": "sigB"}, "mark": {"type": "text", "dx": 21, "dy": -6, "fontSize": 10, "fontWeight": "bold"}, "encoding": {"x": {"field": "a", "type": "nominal"}, "y": {"field": "top", "type": "quantitative", "axis": null}, "text": {"field": "lab"}}}
         ]
        },
        {
         "width": 164, "height": 154,
         "resolve": {"axis": {"y": "independent"}},
         "layer": [
          {"data": {"name": "barC"}, "mark": {"type": "bar", "stroke": "#000", "strokeWidth": 1.5},
           "encoding": {
            "x": {"field": "g", "type": "nominal", "scale": {"domain": ["Tet-on vector", "Tet-on wtTG2", "Tet-on wtTG2+|TMB-8 RyR 1 μM", "Tet-on TG2C277S"], "paddingInner": 0.33, "paddingOuter": 0.15}, "axis": {"title": null, "labelAngle": -90, "labelExpr": "split(datum.label, '|')", "labelFontWeight": "bold", "labelFontSize": 11.5, "labelPadding": 4}},
            "y": {"field": "m", "type": "quantitative", "scale": {"domain": [0, 40], "nice": false}, "axis": {"values": [0, 10, 20, 30, 40], "title": "AUC (X10⁴)"}},
            "fill": {"field": "g", "type": "nominal", "scale": {"domain": ["Tet-on vector", "Tet-on wtTG2", "Tet-on wtTG2+|TMB-8 RyR 1 μM", "Tet-on TG2C277S"], "range": ["#ffffff", "#000000", "#808080", "#77777c"]}, "legend": null}
           }},
          {"data": {"name": "barC"}, "mark": {"type": "rule", "strokeWidth": 1.5, "color": "#000"}, "encoding": {"x": {"field": "g", "type": "nominal"}, "y": {"field": "m", "type": "quantitative", "axis": null}, "y2": {"field": "hi"}}},
          {"data": {"name": "barC"}, "mark": {"type": "tick", "orient": "horizontal", "size": 13, "thickness": 1.5, "color": "#000", "opacity": 1}, "encoding": {"x": {"field": "g", "type": "nominal"}, "y": {"field": "hi", "type": "quantitative", "axis": {"orient": "right", "domain": false, "ticks": false, "labels": false, "title": "Area", "titleAngle": 0, "titleX": -205, "titleY": 0, "titleAlign": "left", "titleBaseline": "middle", "titleFontSize": 10.5, "titleFontWeight": "bold"}}}},
          {"data": {"name": "sigC"}, "mark": {"type": "rule", "color": "#444", "strokeWidth": 1.2}, "encoding": {"x": {"field": "a", "type": "nominal"}, "x2": {"field": "b"}, "y": {"field": "top", "type": "quantitative", "axis": null}}},
          {"data": {"name": "sigC"}, "mark": {"type": "rule", "color": "#444", "strokeWidth": 1.2}, "encoding": {"x": {"field": "a", "type": "nominal"}, "y": {"field": "la", "type": "quantitative", "axis": null}, "y2": {"field": "top"}}},
          {"data": {"name": "sigC"}, "mark": {"type": "rule", "color": "#444", "strokeWidth": 1.2}, "encoding": {"x": {"field": "b", "type": "nominal"}, "y": {"field": "lb", "type": "quantitative", "axis": null}, "y2": {"field": "top"}}},
          {"data": {"name": "sigC"}, "mark": {"type": "text", "dx": 21, "dy": -6, "fontSize": 10, "fontWeight": "bold"}, "encoding": {"x": {"field": "a", "type": "nominal"}, "y": {"field": "top", "type": "quantitative", "axis": null}, "text": {"field": "lab"}}}
         ]
        }
       ]
      }
     ]
    },
    {
     "spacing": 15,
     "resolve": {"scale": {"x": "independent", "y": "independent", "color": "independent", "strokeDash": "independent", "fill": "independent"}, "legend": {"color": "independent", "strokeDash": "independent"}, "axis": {"x": "independent", "y": "independent"}},
     "vconcat": [
      {
       "bounds": "flush",
       "spacing": 78,
       "resolve": {"scale": {"x": "independent", "y": "independent", "color": "independent", "strokeDash": "independent"}, "legend": {"color": "independent", "strokeDash": "independent"}, "axis": {"x": "independent", "y": "independent"}},
       "hconcat": [
        {
         "width": 165, "height": 155,
         "title": {"text": "D", "anchor": "start", "frame": "group", "dx": -65, "fontSize": 18, "offset": 10},
         "layer": [
          {"data": {"name": "lineD"}, "mark": {"type": "line", "strokeWidth": 1.4},
           "encoding": {
            "x": {"field": "t", "type": "quantitative", "scale": {"domain": [0, 2000], "nice": false}, "axis": {"values": [0, 500, 1000, 1500, 2000], "format": "d", "title": "Time (sec)"}},
            "y": {"field": "v", "type": "quantitative", "scale": {"domain": [0, 400], "nice": false}, "axis": {"values": [0, 100, 200, 300, 400], "title": ["Rhod-2 fluorescence", "(% of initial value)"], "titleFontWeight": "normal", "titleFontSize": 10}},
            "color": {"field": "s", "type": "nominal", "scale": {"domain": ["WT", "WT + TMB-8 1 μM", "KO", "KO + TMB-8 1 μM"], "range": ["#000000", "#000000", "#808080", "#999999"]}, "legend": {"title": null, "orient": "none", "legendX": 66, "legendY": 102}},
            "strokeDash": {"field": "s", "type": "nominal", "scale": {"domain": ["WT", "WT + TMB-8 1 μM", "KO", "KO + TMB-8 1 μM"], "range": [[1, 0], [3, 2], [1, 0], [3, 2]]}, "legend": {"title": null, "orient": "none", "legendX": 66, "legendY": 102}}
           }},
          {"data": {"name": "tgD"}, "mark": {"type": "text", "fontSize": 10, "baseline": "bottom"}, "encoding": {"x": {"field": "t", "type": "quantitative"}, "y": {"field": "yt", "type": "quantitative"}, "text": {"field": "lab"}}},
          {"data": {"name": "tgD"}, "mark": {"type": "rule", "strokeWidth": 1.2, "color": "#000"}, "encoding": {"x": {"field": "t", "type": "quantitative"}, "y": {"field": "ya", "type": "quantitative"}, "y2": {"field": "yb"}}},
          {"data": {"name": "tgD"}, "mark": {"type": "point", "shape": "triangle-down", "filled": true, "size": 35, "color": "#000", "opacity": 1}, "encoding": {"x": {"field": "t", "type": "quantitative"}, "y": {"field": "yb", "type": "quantitative"}}}
         ]
        },
        {
         "width": 167, "height": 157,
         "title": {"text": "E", "anchor": "start", "frame": "group", "dx": -60, "fontSize": 18, "offset": 12},
         "layer": [
          {"data": {"name": "lineE"}, "mark": {"type": "line", "strokeWidth": 1.4},
           "encoding": {
            "x": {"field": "t", "type": "quantitative", "scale": {"domain": [0, 2000], "nice": false}, "axis": {"values": [0, 500, 1000, 1500, 2000], "format": "d", "title": "Time (sec)"}},
            "y": {"field": "v", "type": "quantitative", "scale": {"domain": [0, 400], "nice": false}, "axis": {"values": [0, 100, 200, 300, 400], "title": ["Rhod-2 fluorescence", "(% of initial value)"], "titleFontWeight": "normal", "titleFontSize": 10}},
            "color": {"field": "s", "type": "nominal", "scale": {"domain": ["WT", "WT + RyR 1 μM", "KO", "KO + RyR 1 μM"], "range": ["#000000", "#000000", "#808080", "#999999"]}, "legend": {"title": null, "orient": "none", "legendX": 72, "legendY": 100}},
            "strokeDash": {"field": "s", "type": "nominal", "scale": {"domain": ["WT", "WT + RyR 1 μM", "KO", "KO + RyR 1 μM"], "range": [[1, 0], [3, 2], [1, 0], [3, 2]]}, "legend": {"title": null, "orient": "none", "legendX": 72, "legendY": 100}}
           }},
          {"data": {"name": "tgE"}, "mark": {"type": "text", "fontSize": 10, "baseline": "bottom"}, "encoding": {"x": {"field": "t", "type": "quantitative"}, "y": {"field": "yt", "type": "quantitative"}, "text": {"field": "lab"}}},
          {"data": {"name": "tgE"}, "mark": {"type": "rule", "strokeWidth": 1.2, "color": "#000"}, "encoding": {"x": {"field": "t", "type": "quantitative"}, "y": {"field": "ya", "type": "quantitative"}, "y2": {"field": "yb"}}},
          {"data": {"name": "tgE"}, "mark": {"type": "point", "shape": "triangle-down", "filled": true, "size": 35, "color": "#000", "opacity": 1}, "encoding": {"x": {"field": "t", "type": "quantitative"}, "y": {"field": "yb", "type": "quantitative"}}}
         ]
        },
        {
         "width": 164, "height": 153,
         "title": {"text": "F", "anchor": "start", "frame": "group", "dx": -62, "fontSize": 18, "offset": 10},
         "layer": [
          {"data": {"name": "lineF"}, "mark": {"type": "line", "strokeWidth": 1.4},
           "encoding": {
            "x": {"field": "t", "type": "quantitative", "scale": {"domain": [0, 2000], "nice": false}, "axis": {"values": [0, 500, 1000, 1500, 2000], "format": "d", "title": "Time (sec)"}},
            "y": {"field": "v", "type": "quantitative", "scale": {"domain": [0, 600], "nice": false}, "axis": {"values": [0, 200, 400, 600], "title": ["Rhod-2 fluorescence", "(% of initial value)"], "titleFontWeight": "normal", "titleFontSize": 10}},
            "color": {"field": "s", "type": "nominal", "scale": {"domain": ["WT", "WT TMB 1 μM+RyR 1 μM", "KO", "KO TMB 1 μM+RyR 1 μM"], "range": ["#000000", "#000000", "#808080", "#8c8c8c"]}, "legend": {"title": null, "orient": "none", "legendX": 36, "legendY": 102}},
            "strokeDash": {"field": "s", "type": "nominal", "scale": {"domain": ["WT", "WT TMB 1 μM+RyR 1 μM", "KO", "KO TMB 1 μM+RyR 1 μM"], "range": [[1, 0], [6, 3], [1, 0], [6, 3]]}, "legend": {"title": null, "orient": "none", "legendX": 36, "legendY": 102}}
           }},
          {"data": {"name": "tgF"}, "mark": {"type": "text", "fontSize": 10, "baseline": "bottom"}, "encoding": {"x": {"field": "t", "type": "quantitative"}, "y": {"field": "yt", "type": "quantitative"}, "text": {"field": "lab"}}},
          {"data": {"name": "tgF"}, "mark": {"type": "rule", "strokeWidth": 1.2, "color": "#000"}, "encoding": {"x": {"field": "t", "type": "quantitative"}, "y": {"field": "ya", "type": "quantitative"}, "y2": {"field": "yb"}}},
          {"data": {"name": "tgF"}, "mark": {"type": "point", "shape": "triangle-down", "filled": true, "size": 35, "color": "#000", "opacity": 1}, "encoding": {"x": {"field": "t", "type": "quantitative"}, "y": {"field": "yb", "type": "quantitative"}}}
         ]
        }
       ]
      },
      {
       "bounds": "flush",
       "spacing": 80,
       "resolve": {"scale": {"x": "independent", "y": "independent", "fill": "independent"}, "axis": {"x": "independent", "y": "independent"}},
       "hconcat": [
        {
         "width": 165, "height": 155,
         "resolve": {"axis": {"y": "independent"}},
         "layer": [
          {"data": {"name": "barD"}, "mark": {"type": "bar", "stroke": "#000", "strokeWidth": 1.5},
           "encoding": {
            "x": {"field": "g", "type": "nominal", "scale": {"domain": ["WT|-", "WT|+", "KO|-", "KO|+"], "paddingInner": 0.33, "paddingOuter": 0.15}, "axis": {"labelAngle": 0, "labelExpr": "split(datum.label, '|')", "labelFontWeight": "bold", "labelFontSize": 11.5, "labelLineHeight": 14, "labelPadding": 3, "title": "TMB-8 (1μM)", "titleX": -65, "titleY": 27, "titleAlign": "left", "titleBaseline": "middle", "titleFontSize": 11}},
            "y": {"field": "m", "type": "quantitative", "scale": {"domain": [0, 75], "nice": false}, "axis": {"values": [0, 25, 50, 75], "title": "AUC (X10⁴)"}},
            "fill": {"field": "g", "type": "nominal", "scale": {"domain": ["WT|-", "WT|+", "KO|-", "KO|+"], "range": ["#000000", "#838383", "#7b7b80", "#404040"]}, "legend": null}
           }},
          {"data": {"name": "barD"}, "mark": {"type": "rule", "strokeWidth": 1.5, "color": "#000"}, "encoding": {"x": {"field": "g", "type": "nominal"}, "y": {"field": "m", "type": "quantitative", "axis": null}, "y2": {"field": "hi"}}},
          {"data": {"name": "barD"}, "mark": {"type": "tick", "orient": "horizontal", "size": 13, "thickness": 1.5, "color": "#000", "opacity": 1}, "encoding": {"x": {"field": "g", "type": "nominal"}, "y": {"field": "hi", "type": "quantitative", "axis": {"orient": "right", "domain": false, "ticks": false, "labels": false, "title": "Area", "titleAngle": 0, "titleX": -210, "titleY": 0, "titleAlign": "left", "titleBaseline": "middle", "titleFontSize": 10.5, "titleFontWeight": "bold"}}}},
          {"data": {"name": "sigD"}, "mark": {"type": "rule", "color": "#444", "strokeWidth": 1.2}, "encoding": {"x": {"field": "a", "type": "nominal"}, "x2": {"field": "b"}, "y": {"field": "top", "type": "quantitative", "axis": null}}},
          {"data": {"name": "sigD"}, "mark": {"type": "rule", "color": "#444", "strokeWidth": 1.2}, "encoding": {"x": {"field": "a", "type": "nominal"}, "y": {"field": "la", "type": "quantitative", "axis": null}, "y2": {"field": "top"}}},
          {"data": {"name": "sigD"}, "mark": {"type": "rule", "color": "#444", "strokeWidth": 1.2}, "encoding": {"x": {"field": "b", "type": "nominal"}, "y": {"field": "lb", "type": "quantitative", "axis": null}, "y2": {"field": "top"}}},
          {"data": {"name": "sigD"}, "mark": {"type": "text", "dx": 21, "dy": -6, "fontSize": 10, "fontWeight": "bold"}, "encoding": {"x": {"field": "a", "type": "nominal"}, "y": {"field": "top", "type": "quantitative", "axis": null}, "text": {"field": "lab"}}}
         ]
        },
        {
         "width": 165, "height": 155,
         "resolve": {"axis": {"y": "independent"}},
         "layer": [
          {"data": {"name": "barE"}, "mark": {"type": "bar", "stroke": "#000", "strokeWidth": 1.5},
           "encoding": {
            "x": {"field": "g", "type": "nominal", "scale": {"domain": ["WT|-", "WT|+", "KO|-", "KO|+"], "paddingInner": 0.33, "paddingOuter": 0.15}, "axis": {"labelAngle": 0, "labelExpr": "split(datum.label, '|')", "labelFontWeight": "bold", "labelFontSize": 11.5, "labelLineHeight": 14, "labelPadding": 3, "title": "RyR (1μM)", "titleX": -65, "titleY": 27, "titleAlign": "left", "titleBaseline": "middle", "titleFontSize": 11}},
            "y": {"field": "m", "type": "quantitative", "scale": {"domain": [0, 80], "nice": false}, "axis": {"values": [0, 20, 40, 60, 80], "title": "AUC (X10⁴)"}},
            "fill": {"field": "g", "type": "nominal", "scale": {"domain": ["WT|-", "WT|+", "KO|-", "KO|+"], "range": ["#000000", "#838383", "#7b7b80", "#404040"]}, "legend": null}
           }},
          {"data": {"name": "barE"}, "mark": {"type": "rule", "strokeWidth": 1.5, "color": "#000"}, "encoding": {"x": {"field": "g", "type": "nominal"}, "y": {"field": "m", "type": "quantitative", "axis": null}, "y2": {"field": "hi"}}},
          {"data": {"name": "barE"}, "mark": {"type": "tick", "orient": "horizontal", "size": 13, "thickness": 1.5, "color": "#000", "opacity": 1}, "encoding": {"x": {"field": "g", "type": "nominal"}, "y": {"field": "hi", "type": "quantitative", "axis": {"orient": "right", "domain": false, "ticks": false, "labels": false, "title": "Area", "titleAngle": 0, "titleX": -210, "titleY": 0, "titleAlign": "left", "titleBaseline": "middle", "titleFontSize": 10.5, "titleFontWeight": "bold"}}}},
          {"data": {"name": "sigE"}, "mark": {"type": "rule", "color": "#444", "strokeWidth": 1.2}, "encoding": {"x": {"field": "a", "type": "nominal"}, "x2": {"field": "b"}, "y": {"field": "top", "type": "quantitative", "axis": null}}},
          {"data": {"name": "sigE"}, "mark": {"type": "rule", "color": "#444", "strokeWidth": 1.2}, "encoding": {"x": {"field": "a", "type": "nominal"}, "y": {"field": "la", "type": "quantitative", "axis": null}, "y2": {"field": "top"}}},
          {"data": {"name": "sigE"}, "mark": {"type": "rule", "color": "#444", "strokeWidth": 1.2}, "encoding": {"x": {"field": "b", "type": "nominal"}, "y": {"field": "lb", "type": "quantitative", "axis": null}, "y2": {"field": "top"}}},
          {"data": {"name": "sigE"}, "mark": {"type": "text", "dx": 21, "dy": -6, "fontSize": 10, "fontWeight": "bold"}, "encoding": {"x": {"field": "a", "type": "nominal"}, "y": {"field": "top", "type": "quantitative", "axis": null}, "text": {"field": "lab"}}}
         ]
        },
        {
         "width": 165, "height": 155,
         "resolve": {"axis": {"y": "independent"}},
         "layer": [
          {"data": {"name": "barF"}, "mark": {"type": "bar", "stroke": "#000", "strokeWidth": 1.5},
           "encoding": {
            "x": {"field": "g", "type": "nominal", "scale": {"domain": ["WT|-", "WT|+", "KO|-", "KO|+"], "paddingInner": 0.33, "paddingOuter": 0.15}, "axis": {"labelAngle": 0, "labelExpr": "split(datum.label, '|')", "labelFontWeight": "bold", "labelFontSize": 11.5, "labelLineHeight": 14, "labelPadding": 3, "title": ["TMB-8", "RyR (1μM)"], "titleX": -65, "titleY": 21, "titleAlign": "left", "titleBaseline": "top", "titleFontSize": 11, "titleLineHeight": 12}},
            "y": {"field": "m", "type": "quantitative", "scale": {"domain": [0, 150], "nice": false}, "axis": {"values": [0, 50, 100, 150], "title": "AUC (X10⁴)"}},
            "fill": {"field": "g", "type": "nominal", "scale": {"domain": ["WT|-", "WT|+", "KO|-", "KO|+"], "range": ["#000000", "#838383", "#7b7b80", "#404040"]}, "legend": null}
           }},
          {"data": {"name": "barF"}, "mark": {"type": "rule", "strokeWidth": 1.5, "color": "#000"}, "encoding": {"x": {"field": "g", "type": "nominal"}, "y": {"field": "m", "type": "quantitative", "axis": null}, "y2": {"field": "hi"}}},
          {"data": {"name": "barF"}, "mark": {"type": "tick", "orient": "horizontal", "size": 13, "thickness": 1.5, "color": "#000", "opacity": 1}, "encoding": {"x": {"field": "g", "type": "nominal"}, "y": {"field": "hi", "type": "quantitative", "axis": {"orient": "right", "domain": false, "ticks": false, "labels": false, "title": "Area", "titleAngle": 0, "titleX": -213, "titleY": 0, "titleAlign": "left", "titleBaseline": "middle", "titleFontSize": 10.5, "titleFontWeight": "bold"}}}},
          {"data": {"name": "sigF"}, "mark": {"type": "rule", "color": "#444", "strokeWidth": 1.2}, "encoding": {"x": {"field": "a", "type": "nominal"}, "x2": {"field": "b"}, "y": {"field": "top", "type": "quantitative", "axis": null}}},
          {"data": {"name": "sigF"}, "mark": {"type": "rule", "color": "#444", "strokeWidth": 1.2}, "encoding": {"x": {"field": "a", "type": "nominal"}, "y": {"field": "la", "type": "quantitative", "axis": null}, "y2": {"field": "top"}}},
          {"data": {"name": "sigF"}, "mark": {"type": "rule", "color": "#444", "strokeWidth": 1.2}, "encoding": {"x": {"field": "b", "type": "nominal"}, "y": {"field": "lb", "type": "quantitative", "axis": null}, "y2": {"field": "top"}}},
          {"data": {"name": "sigF"}, "mark": {"type": "text", "dx": 21, "dy": -6, "fontSize": 10, "fontWeight": "bold"}, "encoding": {"x": {"field": "a", "type": "nominal"}, "y": {"field": "top", "type": "quantitative", "axis": null}, "text": {"field": "lab"}}}
         ]
        }
       ]
      }
     ]
    }
   ]
  },
  {
   "width": 173, "height": 124,
   "resolve": {"axis": {"y": "independent"}},
   "layer": [
    {"data": {"name": "barG"}, "mark": {"type": "bar", "stroke": "#000", "strokeWidth": 1.5},
     "encoding": {
      "x": {"field": "g", "type": "nominal", "scale": {"domain": ["WT MEF", "KO MEF"], "paddingInner": 0.33, "paddingOuter": 0.15}, "axis": {"title": null, "labelAngle": 0, "labelFontWeight": "bold", "labelFontSize": 11.5, "ticks": false, "labelPadding": 8}},
      "y": {"field": "m", "type": "quantitative", "scale": {"domain": [0.8, 1.2], "nice": false, "zero": false}, "axis": {"values": [0.8, 1.0, 1.2], "format": ".1f", "title": ["Basal [Ca²⁺]ER", "Mag-Fura 2 (340/380 ratio)"], "titleFontSize": 10.5}},
      "y2": {"datum": 0.8},
      "fill": {"field": "g", "type": "nominal", "scale": {"domain": ["WT MEF", "KO MEF"], "range": ["#000000", "#b3b3b3"]}, "legend": null}
     }},
    {"data": {"name": "barG"}, "mark": {"type": "rule", "strokeWidth": 1.5, "color": "#000"}, "encoding": {"x": {"field": "g", "type": "nominal"}, "y": {"field": "m", "type": "quantitative", "axis": null}, "y2": {"field": "hi"}}},
    {"data": {"name": "barG"}, "mark": {"type": "tick", "orient": "horizontal", "size": 28, "thickness": 1.5, "color": "#000", "opacity": 1}, "encoding": {"x": {"field": "g", "type": "nominal"}, "y": {"field": "hi", "type": "quantitative", "axis": {"orient": "right", "domain": false, "labels": false, "ticks": true, "tickSize": 20, "tickColor": "#ffffff", "values": [1.0], "title": "G", "titleAngle": 0, "titleX": -243, "titleY": 0, "titleAlign": "left", "titleBaseline": "middle", "titleFontSize": 18, "titleFontWeight": "normal"}}}},
    {"data": {"name": "sigG"}, "mark": {"type": "rule", "color": "#444", "strokeWidth": 1.2}, "encoding": {"x": {"field": "a", "type": "nominal"}, "x2": {"field": "b"}, "y": {"field": "top", "type": "quantitative", "axis": null}}},
    {"data": {"name": "sigG"}, "mark": {"type": "rule", "color": "#444", "strokeWidth": 1.2}, "encoding": {"x": {"field": "a", "type": "nominal"}, "y": {"field": "la", "type": "quantitative", "axis": null}, "y2": {"field": "top"}}},
    {"data": {"name": "sigG"}, "mark": {"type": "rule", "color": "#444", "strokeWidth": 1.2}, "encoding": {"x": {"field": "b", "type": "nominal"}, "y": {"field": "lb", "type": "quantitative", "axis": null}, "y2": {"field": "top"}}},
    {"data": {"name": "sigG"}, "mark": {"type": "text", "dx": 43, "dy": -6, "fontSize": 10, "fontWeight": "bold"}, "encoding": {"x": {"field": "a", "type": "nominal"}, "y": {"field": "top", "type": "quantitative", "axis": null}, "text": {"field": "lab"}}}
   ]
  }
 ]
}
